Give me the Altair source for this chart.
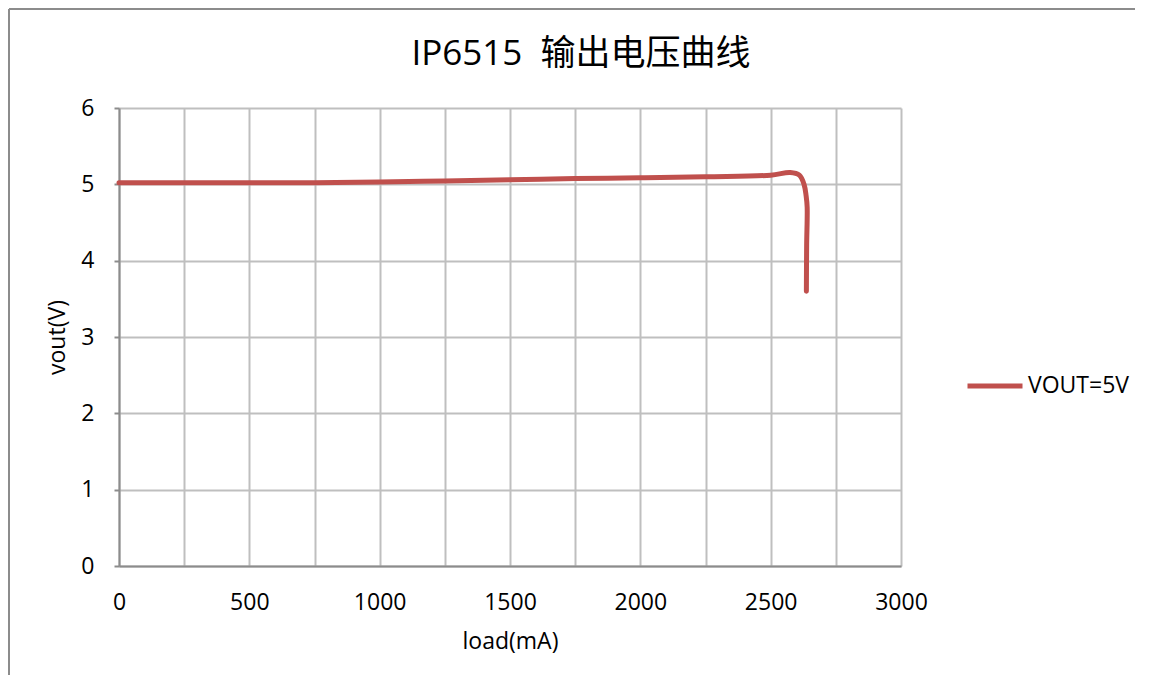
import altair as alt
import pandas as pd

load_ma = [0, 250, 500, 750, 1000, 1250, 1500, 1750, 2000, 2250, 2500, 2575, 2610, 2628, 2636, 2640, 2638, 2637]
vout_v = [5.02, 5.02, 5.02, 5.02, 5.03, 5.045, 5.06, 5.075, 5.085, 5.10, 5.12, 5.155, 5.12, 5.0, 4.85, 4.7, 4.2, 3.6]
series_name = "VOUT=5V"
x_ticks = list(range(0, 3001, 250))
y_ticks = [0, 1, 2, 3, 4, 5, 6]
title_text = "IP6515\u00a0\u00a0输出电压曲线"

df = pd.DataFrame({"load": load_ma, "vout": vout_v, "idx": list(range(len(load_ma))), "series": series_name})

FONT = "Open Sans, Noto Sans CJK SC"
W, H = 782, 458

line = alt.Chart(df).mark_line(
    strokeWidth=5, strokeCap="round", strokeJoin="round", interpolate="catmull-rom"
).encode(
    x=alt.X("load:Q", scale=alt.Scale(domain=[0, 3000], nice=False),
            axis=alt.Axis(values=x_ticks, format="d",
                          labelExpr="datum.value % 500 == 0 ? datum.label : ''",
                          title="load(mA)", ticks=False, labelPadding=25, labelFlush=False,
                          labelOverlap=False,
                          titleX=W / 2, titleY=75, titleBaseline="middle", titleAlign="center")),
    y=alt.Y("vout:Q", scale=alt.Scale(domain=[0, 6], nice=False),
            axis=alt.Axis(values=y_ticks, title="vout(V)", tickSize=5, labelPadding=20,
                          labelFlush=False,
                          titleX=-62, titleY=H / 2, titleBaseline="middle", titleAlign="center",
                          titleAngle=-90)),
    order="idx:Q",
    color=alt.Color("series:N", scale=alt.Scale(range=["#C0504D"]),
                    legend=alt.Legend(title=None, orient="none", legendX=846, legendY=248,
                                      symbolType="stroke", symbolSize=3025, symbolStrokeWidth=5,
                                      labelFontSize=23, labelFont=FONT, labelColor="black",
                                      padding=0, labelOffset=3)),
)

one = pd.DataFrame({"b": [0]})
border_left = alt.Chart(one).mark_rule(color="#8c8c8c", strokeWidth=2).encode(
    x=alt.value(-110), y=alt.value(-99), y2=alt.value(H + 109)
)
border_top = alt.Chart(one).mark_rule(color="#8c8c8c", strokeWidth=2).encode(
    y=alt.value(-99), x=alt.value(-110), x2=alt.value(W + 234)
)
title = alt.Chart(pd.DataFrame({"t": [title_text]})).mark_text(
    font=FONT, fontSize=35, color="black", align="center", baseline="alphabetic"
).encode(x=alt.value(462), y=alt.value(-43), text="t:N")

chart = alt.layer(border_left, border_top, title, line).properties(
    width=W, height=H,
    autosize=alt.AutoSizeParams(type="none"),
    padding={"left": 111, "top": 100, "right": 240, "bottom": 110},
    background="white",
).configure_view(stroke=None).configure_axis(
    gridColor="#bfbfbf", gridWidth=2, domainColor="#8c8c8c", domainWidth=2,
    tickColor="#8c8c8c", tickWidth=2,
    labelFont=FONT, labelFontSize=23, labelColor="black",
    titleFont=FONT, titleFontSize=23, titleFontWeight="normal", titleColor="black",
)

chart.save("out.html", embed_options={"renderer": "svg", "actions": False})
